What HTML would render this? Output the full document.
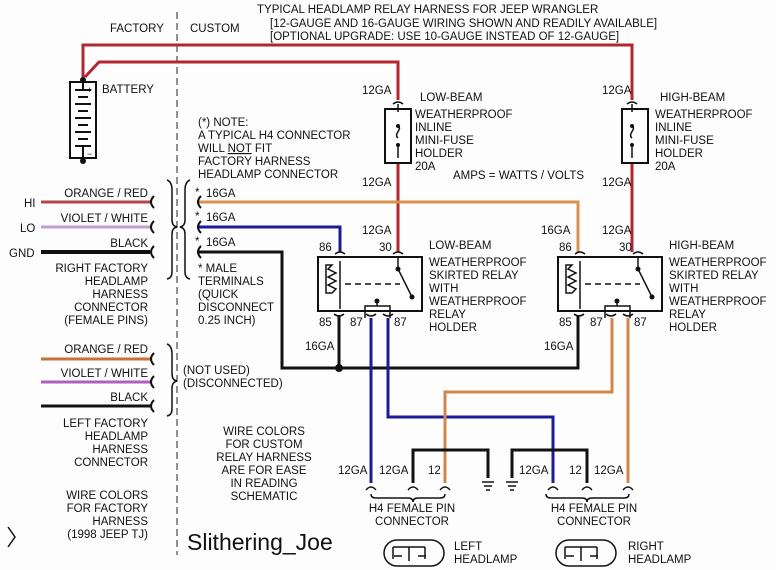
<!DOCTYPE html>
<html><head><style>
body{margin:0;background:#fff}
svg{display:block}
text{font-family:"Liberation Sans",sans-serif;font-size:11.5px;fill:#111}
</style></head><body>
<svg width="776" height="570" viewBox="0 0 776 570" xmlns="http://www.w3.org/2000/svg">
<rect width="776" height="570" fill="#fdfdfd"/>
<line x1="177" y1="12" x2="177" y2="555" stroke="#222" stroke-dasharray="7,4" stroke-width="1"/>
<text x="110" y="32">FACTORY</text>
<text x="190" y="32">CUSTOM</text>
<text x="257" y="13">TYPICAL HEADLAMP RELAY HARNESS FOR JEEP WRANGLER</text>
<text x="270" y="27">[12-GAUGE AND 16-GAUGE WIRING SHOWN AND READILY AVAILABLE]</text>
<text x="270" y="40">[OPTIONAL UPGRADE: USE 10-GAUGE INSTEAD OF 12-GAUGE]</text>

<g stroke="#b22630" stroke-width="3" fill="none">
<polyline points="83,79 83,45 632,45 632,100"/>
<polyline points="85,77 99,62 398,62 398,100"/>
<line x1="398" y1="163" x2="398" y2="252"/>
<line x1="632" y1="163" x2="632" y2="252"/>
</g>
<rect x="70" y="82" width="26" height="76" fill="#fff" stroke="#111" stroke-width="2"/>
<circle cx="83" cy="80" r="3" fill="#111"/><circle cx="83" cy="161" r="3" fill="#111"/>
<g stroke="#111" stroke-width="2">
<line x1="83" y1="82" x2="83" y2="90"/><line x1="75" y1="90" x2="91" y2="90"/>
<line x1="78" y1="97" x2="88" y2="97"/><line x1="75" y1="104" x2="91" y2="104"/>
<line x1="78" y1="111" x2="88" y2="111"/><line x1="75" y1="118" x2="91" y2="118"/>
<line x1="78" y1="125" x2="88" y2="125"/><line x1="75" y1="132" x2="91" y2="132"/>
<line x1="78" y1="139" x2="88" y2="139"/><line x1="75" y1="146" x2="91" y2="146"/>
<line x1="83" y1="146" x2="83" y2="158"/>
</g>
<text x="87" y="93" style="font-size:9px">+</text><text x="87" y="157" style="font-size:9px">−</text>
<text x="102" y="93">BATTERY</text>

<g fill="#fff" stroke="#111" stroke-width="2">
<rect x="385" y="109" width="26" height="54"/><rect x="622" y="109" width="26" height="54"/>
</g>
<g stroke="#111" stroke-width="1.5" fill="none">
<path d="M398,104 v8 m0,14 c5,3 -5,8 0,12 m0,6 v14"/><path d="M632,104 v8 m0,14 c5,3 -5,8 0,12 m0,6 v14"/>
<path d="M393,104 q5,-4 10,0"/><path d="M627,104 q5,-4 10,0"/>
</g>
<g fill="#111"><circle cx="398" cy="126" r="2"/><circle cx="398" cy="145" r="2"/><circle cx="632" cy="126" r="2"/><circle cx="632" cy="145" r="2"/></g>
<text x="362" y="94">12GA</text><text x="420" y="101">LOW-BEAM</text>
<text x="415" y="118">WEATHERPROOF</text><text x="415" y="131">INLINE</text><text x="415" y="144">MINI-FUSE</text><text x="415" y="157">HOLDER</text><text x="415" y="170">20A</text>
<text x="362" y="186">12GA</text>
<text x="602" y="94">12GA</text><text x="660" y="101">HIGH-BEAM</text>
<text x="655" y="118">WEATHERPROOF</text><text x="655" y="131">INLINE</text><text x="655" y="144">MINI-FUSE</text><text x="655" y="157">HOLDER</text><text x="655" y="170">20A</text>
<text x="602" y="186">12GA</text>
<text x="453" y="179">AMPS = WATTS / VOLTS</text>

<text x="198" y="126">(*) NOTE:</text>
<text x="198" y="139">A TYPICAL H4 CONNECTOR</text>
<text x="198" y="152">WILL <tspan text-decoration="underline">NOT</tspan> FIT</text>
<text x="198" y="165">FACTORY HARNESS</text>
<text x="198" y="178">HEADLAMP CONNECTOR</text>

<line x1="41" y1="202" x2="150" y2="202" stroke="#b0484a" stroke-width="3"/>
<line x1="41" y1="227" x2="150" y2="227" stroke="#c79ad0" stroke-width="3"/>
<line x1="41" y1="252" x2="150" y2="252" stroke="#111" stroke-width="4"/>
<text x="24" y="207">HI</text><text x="20" y="232">LO</text><text x="9" y="257">GND</text>
<g text-anchor="end"><text x="148" y="197">ORANGE / RED</text><text x="148" y="222">VIOLET / WHITE</text><text x="148" y="247">BLACK</text>
<text x="148" y="353">ORANGE / RED</text><text x="148" y="377">VIOLET / WHITE</text><text x="148" y="401">BLACK</text></g>
<g stroke="#111" stroke-width="2" fill="none">
<path d="M154,196 q-6,6 0,12"/><path d="M154,221 q-6,6 0,12"/><path d="M154,246 q-6,6 0,12"/>
<path d="M154,353 q-6,6 0,12"/><path d="M154,376 q-6,6 0,12"/><path d="M154,400 q-6,6 0,12"/>
</g>
<g text-anchor="end"><text x="148" y="272">RIGHT FACTORY</text><text x="148" y="285">HEADLAMP</text><text x="148" y="298">HARNESS</text><text x="148" y="311">CONNECTOR</text><text x="148" y="324">(FEMALE PINS)</text>
<text x="148" y="427">LEFT FACTORY</text><text x="148" y="440">HEADLAMP</text><text x="148" y="453">HARNESS</text><text x="148" y="466">CONNECTOR</text>
<text x="148" y="499">WIRE COLORS</text><text x="148" y="512">FOR FACTORY</text><text x="148" y="525">HARNESS</text><text x="148" y="538">(1998 JEEP TJ)</text></g>
<line x1="41" y1="359" x2="150" y2="359" stroke="#c8703a" stroke-width="3"/>
<line x1="41" y1="382" x2="150" y2="382" stroke="#b060c0" stroke-width="3"/>
<line x1="41" y1="406" x2="150" y2="406" stroke="#111" stroke-width="3"/>
<g stroke="#111" stroke-width="1.5" fill="none">
<path d="M167,180 q5,2 5,10 v30 q0,6 5,7 q-5,1 -5,7 v38 q0,6 -5,7"/>
<path d="M190,180 q-5,2 -5,10 v30 q0,6 -5,7 q5,1 5,7 v38 q0,6 5,7"/>
<path d="M167,344 q5,2 5,10 v20 q0,6 5,7 q-5,1 -5,7 v21 q0,6 -5,7"/>
<path d="M8,527 l7,10 l-7,10"/>
</g>
<text x="183" y="374">(NOT USED)</text><text x="183" y="387">(DISCONNECTED)</text>
<text x="195" y="196">*</text><text x="206" y="197">16GA</text>
<text x="195" y="220">*</text><text x="206" y="221">16GA</text>
<text x="195" y="245">*</text><text x="206" y="246">16GA</text>
<text x="198" y="272">* MALE</text><text x="198" y="285">TERMINALS</text><text x="198" y="298">(QUICK</text><text x="198" y="311">DISCONNECT</text><text x="198" y="324">0.25 INCH)</text>
<g text-anchor="middle"><text x="264" y="435">WIRE COLORS</text><text x="264" y="448">FOR CUSTOM</text><text x="264" y="461">RELAY HARNESS</text><text x="264" y="474">ARE FOR EASE</text><text x="264" y="487">IN READING</text><text x="264" y="500">SCHEMATIC</text></g>
<text x="187" y="550" style="font-size:23px">Slithering_Joe</text>

<polyline points="197,202 578,202 578,252" stroke="#d8924e" stroke-width="3" fill="none"/>
<polyline points="197,227 340,227 340,252" stroke="#1a1a9a" stroke-width="3" fill="none"/>
<polyline points="197,252 282,252 282,368 578,368 578,315" stroke="#111" stroke-width="3" fill="none"/>
<line x1="339" y1="315" x2="339" y2="368" stroke="#111" stroke-width="3"/>
<circle cx="339" cy="368" r="4" fill="#111"/>
<g stroke="#111" stroke-width="2" fill="none"><path d="M201,196 q-6,6 0,12"/><path d="M201,221 q-6,6 0,12"/><path d="M201,246 q-6,6 0,12"/></g>
<text x="305" y="350">16GA</text><text x="544" y="350">16GA</text>
<text x="541" y="234">16GA</text><text x="602" y="234">12GA</text><text x="362" y="234">12GA</text>

<g fill="#fff" stroke="#111" stroke-width="2"><rect x="318" y="257" width="104" height="54"/><rect x="558" y="257" width="104" height="54"/></g>
<g stroke="#111" stroke-width="1.5" fill="none">
<path d="M340,261 v48 M335,254 q5,-4 10,0"/>
<path d="M326,265 h6 l-4,4 l8,4 l-8,4 l8,4 l-8,4 l8,4 l-4,4 h-6 z"/>
<path d="M345,284 h55" stroke-dasharray="6,4"/>
<path d="M398,257 v12 l14,28"/>
<path d="M365,318 v-12 h25 v12 M377,306 v-4"/>
<path d="M366,314 q5,4 10,0 M383,314 q5,4 10,0 M334,314 q5,4 10,0 M393,254 q5,-4 10,0"/>
</g>
<g transform="translate(240,0)" stroke="#111" stroke-width="1.5" fill="none">
<path d="M340,261 v48 M335,254 q5,-4 10,0"/>
<path d="M326,265 h6 l-4,4 l8,4 l-8,4 l8,4 l-8,4 l8,4 l-4,4 h-6 z"/>
<path d="M345,284 h55" stroke-dasharray="6,4"/>
<path d="M398,257 v12 l14,28"/>
<path d="M365,318 v-12 h25 v12 M377,306 v-4"/>
<path d="M366,314 q5,4 10,0 M383,314 q5,4 10,0 M334,314 q5,4 10,0 M393,254 q5,-4 10,0"/>
</g>
<g fill="#111"><circle cx="398" cy="269" r="2.5"/><circle cx="412" cy="297" r="2.5"/><circle cx="377" cy="301" r="2.5"/>
<circle cx="638" cy="269" r="2.5"/><circle cx="652" cy="297" r="2.5"/><circle cx="617" cy="301" r="2.5"/></g>
<text x="319" y="251">86</text><text x="379" y="251">30</text><text x="319" y="326">85</text><text x="350" y="326">87</text><text x="394" y="326">87</text>
<text x="559" y="251">86</text><text x="619" y="251">30</text><text x="559" y="326">85</text><text x="590" y="326">87</text><text x="634" y="326">87</text>
<text x="429" y="249">LOW-BEAM</text><text x="429" y="266">WEATHERPROOF</text><text x="429" y="279">SKIRTED RELAY</text><text x="429" y="292">WITH</text><text x="429" y="305">WEATHERPROOF</text><text x="429" y="318">RELAY</text><text x="429" y="331">HOLDER</text>
<text x="669" y="249">HIGH-BEAM</text><text x="669" y="266">WEATHERPROOF</text><text x="669" y="279">SKIRTED RELAY</text><text x="669" y="292">WITH</text><text x="669" y="305">WEATHERPROOF</text><text x="669" y="318">RELAY</text><text x="669" y="331">HOLDER</text>

<line x1="371" y1="318" x2="371" y2="483" stroke="#1a1a9a" stroke-width="3"/>
<polyline points="388,318 388,417 553,417 553,483" stroke="#1a1a9a" stroke-width="3" fill="none"/>
<polyline points="612,318 612,392 445,392 445,483" stroke="#d0884a" stroke-width="3" fill="none"/>
<line x1="628" y1="318" x2="628" y2="483" stroke="#d0884a" stroke-width="3"/>
<polyline points="413,483 413,450 488,450 488,478" stroke="#111" stroke-width="3" fill="none"/>
<polyline points="512,478 512,450 587,450 587,483" stroke="#111" stroke-width="3" fill="none"/>
<g stroke="#111" stroke-width="1.5" fill="none">
<path d="M482,482 h12 M484,486 h8 M486,490 h4 M506,482 h12 M508,486 h8 M510,490 h4"/>
<path d="M366,490 q5,-6 10,0 M408,490 q5,-6 10,0 M440,490 q5,-6 10,0 M548,490 q5,-6 10,0 M582,490 q5,-6 10,0 M623,490 q5,-6 10,0"/>
<path d="M371,494 q0,4 5,4 h32 q5,0 5,4 q0,-4 5,-4 h22 q5,0 5,-4"/>
<path d="M546,494 q0,4 5,4 h31 q5,0 5,4 q0,-4 5,-4 h32 q5,0 5,-4"/>
<rect x="384" y="540" width="60" height="26" rx="13"/><rect x="556" y="540" width="60" height="26" rx="13"/>
<path d="M393,547 h32 M409,547 v14 M393,547 v12 M425,547 v12 M394,556 h8 M418,556 h8"/>
<path d="M565,547 h32 M581,547 v14 M565,547 v12 M597,547 v12 M566,556 h8 M590,556 h8"/>
</g>
<text x="338" y="474">12GA</text><text x="379" y="474">12GA</text><text x="428" y="474">12</text>
<text x="519" y="474">12GA</text><text x="569" y="474">12</text><text x="594" y="474">12GA</text>
<g text-anchor="middle"><text x="412" y="512">H4 FEMALE PIN</text><text x="412" y="525">CONNECTOR</text>
<text x="594" y="512">H4 FEMALE PIN</text><text x="594" y="525">CONNECTOR</text></g>
<text x="454" y="550">LEFT</text><text x="454" y="563">HEADLAMP</text>
<text x="628" y="550">RIGHT</text><text x="628" y="563">HEADLAMP</text>
</svg>
</body></html>
